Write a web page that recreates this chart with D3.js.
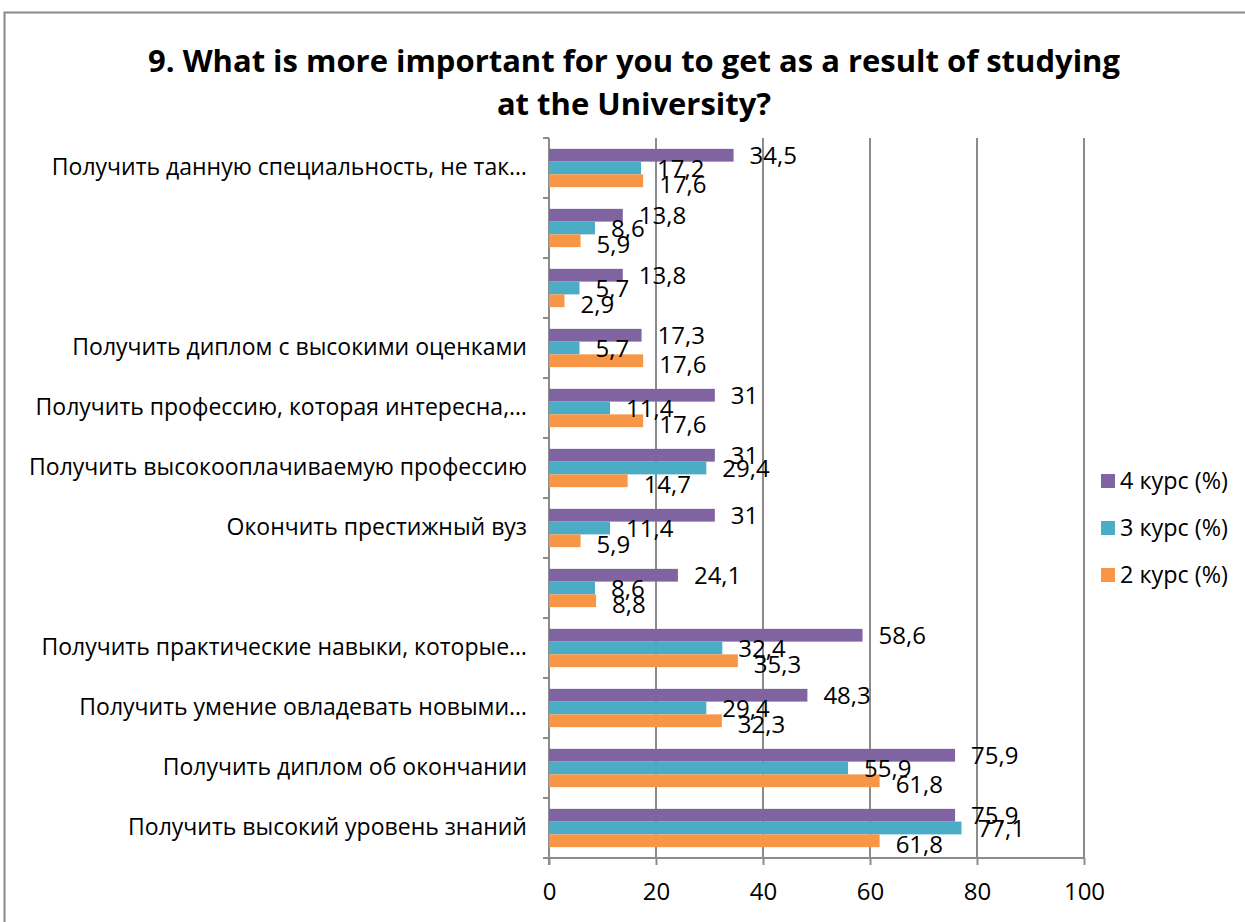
<!DOCTYPE html>
<html>
<head>
<meta charset="utf-8">
<script src="https://cdn.jsdelivr.net/npm/d3@7"></script>
<style>
  body { margin: 0; background: #fff; }
  text { font-family: "Open Sans", sans-serif; fill: #000; }
</style>
</head>
<body>
<div id="okvir"></div>
<script>
// podaci (odozgo prema dolje kako su na slici)
const kategorije = [
  "Получить данную специальность, не так…",
  "",
  " ",
  "Получить диплом с высокими оценками",
  "Получить профессию, которая интересна,…",
  "Получить высокооплачиваемую профессию",
  "Окончить престижный вуз",
  "  ",
  "Получить практические навыки, которые…",
  "Получить умение овладевать новыми…",
  "Получить диплом об окончании",
  "Получить высокий уровень знаний",
]
const kurs4 = [34.5, 13.8, 13.8, 17.3, 31, 31, 31, 24.1, 58.6, 48.3, 75.9, 75.9]
const kurs3 = [17.2, 8.6, 5.7, 5.7, 11.4, 29.4, 11.4, 8.6, 32.4, 29.4, 55.9, 77.1]
const kurs2 = [17.6, 5.9, 2.9, 17.6, 17.6, 14.7, 5.9, 8.8, 35.3, 32.3, 61.8, 61.8]
const serije = ["4 курс (%)", "3 курс (%)", "2 курс (%)"]
const boje = ["#8064A2", "#4BACC6", "#F79646"]
const xTicks = [0, 20, 40, 60, 80, 100]
const naslovRedovi = [
  "9. What is more important for you to get as a result of studying",
  "at the University?",
]

const dimenzije = {
  sirina: 1245,
  visina: 922,
  lijevo: 549,
  desno: 1084,
  gore: 138,
  dolje: 858,
}

const svg = d3.select("#okvir")
  .append("svg")
    .attr("width", dimenzije.sirina)
    .attr("height", dimenzije.visina)

// velicina fonta tako da tekst ima zadanu sirinu
const velicinaZaSirinu = (tekst, sirina, tezina) => {
  const t = svg.append("text")
    .style("font-size", "20px")
    .style("font-weight", tezina || "normal")
    .text(tekst)
  const w = t.node().getComputedTextLength()
  t.remove()
  return 20 * sirina / w
}

// okvir grafa
svg.append("rect")
  .attr("x", 4.5)
  .attr("y", 12.5)
  .attr("width", 1300)
  .attr("height", 1000)
  .attr("fill", "#fff")
  .attr("stroke", "#8a8a8a")
  .attr("stroke-width", 2)

// naslov
const fNaslov = velicinaZaSirinu(naslovRedovi[0], 972, "bold")
svg.append("g").selectAll("text")
  .data(naslovRedovi)
  .join("text")
    .attr("x", 634)
    .attr("y", (d, i) => 72 + i * 43)
    .attr("text-anchor", "middle")
    .style("font-size", fNaslov + "px")
    .style("font-weight", "bold")
    .text(d => d)

// razmjeri
const x = d3.scaleLinear().domain([0, 100]).range([dimenzije.lijevo, dimenzije.desno])
const y = d3.scaleBand().domain(kategorije).range([dimenzije.gore, dimenzije.dolje])
const ySer = d3.scaleBand().domain(serije).range([0, y.bandwidth()]).paddingOuter(0.85).paddingInner(0)

// mreza
svg.append("g").selectAll("line")
  .data(xTicks.slice(1))
  .join("line")
    .attr("x1", d => x(d))
    .attr("x2", d => x(d))
    .attr("y1", dimenzije.gore)
    .attr("y2", dimenzije.dolje)
    .attr("stroke", "#8c8c8c")
    .attr("stroke-width", 2)

// x os
const xOs = svg.append("g")
  .attr("transform", `translate(0, ${dimenzije.dolje})`)
  .call(d3.axisBottom(x).tickValues(xTicks).tickSize(7).tickPadding(18).tickSizeOuter(0))
xOs.select(".domain").attr("stroke", "#8c8c8c").attr("stroke-width", 2)
  .attr("d", `M${dimenzije.lijevo - 6},0H${dimenzije.desno}`)
xOs.selectAll(".tick line").attr("stroke", "#8c8c8c").attr("stroke-width", 2)
xOs.selectAll(".tick text").style("font-size", "24px").style("font-family", "'Open Sans', sans-serif")

// y os
const fKat = velicinaZaSirinu("Получить высокооплачиваемую профессию", 498)
const yOs = svg.append("g")
  .attr("transform", `translate(${dimenzije.lijevo}, 0)`)
  .call(d3.axisLeft(y).tickSize(0).tickPadding(22))
yOs.select(".domain").attr("stroke", "#8c8c8c").attr("stroke-width", 2)
  .attr("d", `M0,${dimenzije.gore}V${dimenzije.dolje + 7}`)
yOs.selectAll(".tick text").style("font-size", fKat + "px").style("font-family", "'Open Sans', sans-serif")
yOs.append("g").selectAll("line")
  .data(d3.range(kategorije.length + 1))
  .join("line")
    .attr("x1", -6)
    .attr("x2", 0)
    .attr("y1", i => dimenzije.gore + i * y.step())
    .attr("y2", i => dimenzije.gore + i * y.step())
    .attr("stroke", "#8c8c8c")
    .attr("stroke-width", 2)

// stupci
const tablica = kategorije.map((k, i) => ({
  kategorija: k,
  vrijednosti: [kurs4[i], kurs3[i], kurs2[i]].map((v, j) => ({ serija: serije[j], v: v, boja: boje[j] })),
}))

const grupe = svg.append("g").selectAll("g")
  .data(tablica)
  .join("g")
    .attr("transform", d => `translate(0, ${y(d.kategorija)})`)

grupe.selectAll("rect")
  .data(d => d.vrijednosti)
  .join("rect")
    .attr("x", x(0))
    .attr("y", d => ySer(d.serija))
    .attr("width", d => x(d.v) - x(0))
    .attr("height", ySer.bandwidth())
    .attr("fill", d => d.boja)

grupe.selectAll("text")
  .data(d => d.vrijednosti)
  .join("text")
    .attr("x", d => x(d.v) + 16)
    .attr("y", (d, i) => ySer(d.serija) + ySer.bandwidth() / 2 + 9 + (i == 2 ? 3 : 0))
    .style("font-size", "24px")
    .text(d => String(d.v).replace(".", ","))

// legenda
const fLeg = velicinaZaSirinu(serije[0], 108)
const legenda = svg.append("g").selectAll("g")
  .data(serije)
  .join("g")
    .attr("transform", (d, i) => `translate(1101, ${474 + i * 47})`)
legenda.append("rect")
  .attr("width", 14)
  .attr("height", 14)
  .attr("fill", (d, i) => boje[i])
legenda.append("text")
  .attr("x", 19)
  .attr("y", 15)
  .style("font-size", fLeg + "px")
  .text(d => d)
</script>
</body>
</html>
